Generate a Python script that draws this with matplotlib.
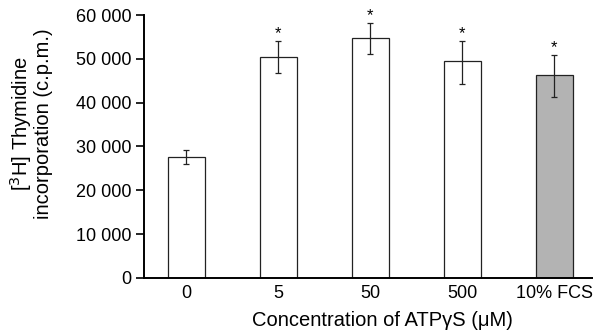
import matplotlib.pyplot as plt

plt.rcParams['font.family'] = ['Liberation Sans', 'DejaVu Sans']

categories = ["0", "5", "50", "500", "10% FCS"]
values = [27500, 50400, 54800, 49500, 46300]
err_up = [1600, 3700, 3400, 4600, 4600]
err_down = [1600, 3600, 3700, 5200, 5000]
significant = [False, True, True, True, True]
colors = ["white", "white", "white", "white", "#b3b3b3"]
yticks = [0, 10000, 20000, 30000, 40000, 50000, 60000]


def main() -> None:
    fig = plt.figure(figsize=(5.93, 3.36), dpi=100)
    ax = fig.add_axes([0.243, 0.173, 0.757, 0.782])
    x = list(range(len(categories)))
    ax.bar(x, values, width=0.4, color=colors, edgecolor="#222222",
           linewidth=0.9, zorder=2)
    ax.errorbar(x, values, yerr=[err_down, err_up], fmt="none",
                ecolor="#222222", elinewidth=0.9, capsize=2.5,
                capthick=0.9, zorder=3)
    for xi, v, up, sig in zip(x, values, err_up, significant):
        if sig:
            ax.annotate("*", (xi, v + up), xytext=(0, 0),
                        textcoords="offset points", ha="center",
                        va="bottom", fontsize=12)

    ax.set_xlim(-0.46, 4.42)
    ax.set_ylim(0, 60000)
    ax.set_xticks(x)
    ax.set_xticklabels(categories, fontsize=13)
    ax.set_yticks(yticks)
    ax.set_yticklabels([f"{t:,}".replace(",", " ") for t in yticks],
                       fontsize=13)
    ax.tick_params(axis="x", length=0, pad=5)
    ax.tick_params(axis="y", length=6, width=1.2, pad=3)
    for side in ["top", "right"]:
        ax.spines[side].set_visible(False)
    for side in ["left", "bottom"]:
        ax.spines[side].set_linewidth(1.4)
    ax.set_xlabel("Concentration of ATPγS (μM)", fontsize=14.5)
    ax.xaxis.set_label_coords(0.53, -0.125)
    ax.set_ylabel("[$^3$H] Thymidine\nincorporation (c.p.m.)", fontsize=14.5,
                  linespacing=1.0)
    ax.yaxis.set_label_coords(-0.203, 0.586)
    fig.savefig("out.png", dpi=100)


if __name__ == "__main__":
    main()
